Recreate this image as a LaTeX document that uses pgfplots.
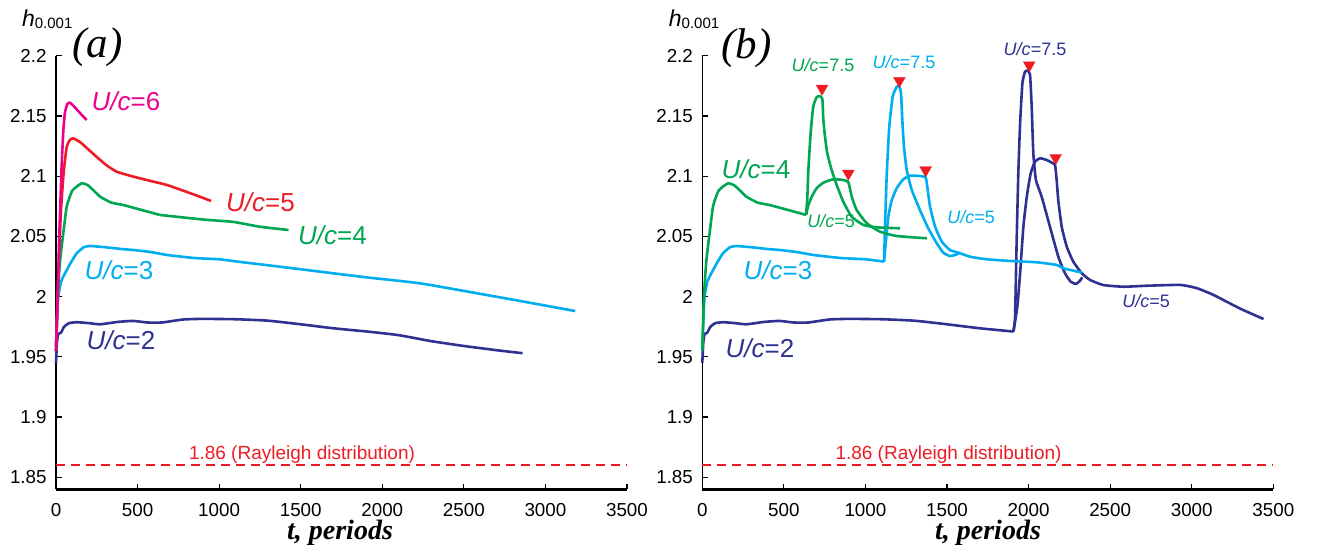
\documentclass[border=0pt]{standalone}
\usepackage{fontspec}
\setmainfont{Liberation Sans}
\newfontfamily\tnr{Liberation Serif}
\usepackage{pgfplots}
\pgfplotsset{compat=1.18}
\definecolor{cnavy}{HTML}{2E3192}
\definecolor{ccyan}{HTML}{00AEEF}
\definecolor{cgreen}{HTML}{00A651}
\definecolor{cred}{HTML}{ED1C24}
\definecolor{cmag}{HTML}{EC008C}

\pgfplotsset{
  panel/.style={
    scale only axis, width=285.5pt, height=216.8pt,
    xmin=0, xmax=3500, ymin=1.84, ymax=2.2,
    axis lines*=left,
    x axis line style={line width=1.3pt},
    y axis line style={line width=0.8pt},
    tick align=inside, major tick length=2.8pt,
    tick style={black, line width=0.6pt},
    xtick={0,500,1000,1500,2000,2500,3000,3500},
    xticklabels={0,500,1000,1500,2000,2500,3000,3500},
    ytick={1.85,1.9,1.95,2,2.05,2.1,2.15,2.2},
    yticklabels={1.85,1.9,1.95,2,2.05,2.1,2.15,2.2},
    x tick label style={inner sep=0pt, anchor=north, yshift=-7pt, font=\fontsize{9.4}{11}\selectfont},
    y tick label style={inner sep=0pt, anchor=east, xshift=-4.5pt, font=\fontsize{9.4}{11}\selectfont},
    /pgf/number format/assume math mode=true,
    scaled ticks=false,
    clip=false,
  },
  crv/.style={line width=1.3pt, line join=round, smooth, tension=0.3},
  ray/.style={cred, line width=0.9pt, dash pattern=on 4.5pt off 3pt},
  tri/.style={only marks, color=cred, mark=triangle*, mark size=3.46pt, mark options={rotate=180, fill=cred, draw=cred, line width=0.1pt, solid}},
}

\pgfplotstableread{
x y
0 1.945
6 1.962
14 1.969
30 1.970
50 1.975
80 1.978
130 1.9787
200 1.978
270 1.977
380 1.979
474 1.9798
560 1.9785
650 1.9785
780 1.981
900 1.9815
1100 1.9812
1300 1.980
1500 1.977
1700 1.9737
1907 1.971
}\UtwoBase
\pgfplotstableread{
x y
1907 1.971
2100 1.968
2300 1.963
2500 1.959
2700 1.9555
2860 1.953
}\UtwoTail
\pgfplotstableread{
x y
0 1.958
8 1.985
14 2.000
30 2.012
50 2.018
66 2.022
90 2.028
127 2.036
170 2.041
208 2.042
300 2.041
400 2.0395
474 2.0387
580 2.037
679 2.0346
850 2.032
1000 2.031
1114 2.029
}\UthreeBase
\pgfplotstableread{
x y
1114 2.029
1300 2.026
1619 2.0207
1900 2.016
2232 2.011
2641 2.0013
2900 1.995
3183 1.988
}\UthreeTail
\pgfplotstableread{
x y
0 1.955
10 2.000
25 2.030
45 2.053
66 2.075
100 2.088
157 2.094
200 2.092
270 2.083
340 2.078
413 2.076
550 2.071
636 2.0678
}\UfourBase
\pgfplotstableread{
x y
636 2.0678
900 2.064
1087 2.062
1250 2.058
1425 2.0553
}\UfourTail
\pgfplotstableread{
x y
0 1.955
15 2.02
30 2.07
45 2.10
55 2.113
66 2.1245
85 2.130
106 2.1314
150 2.128
200 2.122
249 2.116
310 2.109
372 2.1037
474 2.0996
580 2.096
679 2.0927
820 2.086
951 2.0794
}\Ufive
\pgfplotstableread{
x y
0 1.955
10 2.00
20 2.05
30 2.09
35 2.110
45 2.138
55 2.153
70 2.160
86 2.161
110 2.158
150 2.152
188 2.1466
}\Usix
% ---- panel (b) branches
\pgfplotstableread{
x y
636 2.0678
644 2.083
650 2.105
664 2.1356
680 2.1577
701 2.1655
721 2.1665
736 2.1638
742 2.1466
752 2.1328
766 2.119
793 2.105
824 2.0927
864 2.0788
916 2.0663
987 2.0595
1069 2.0575
1212 2.0567
}\GsevenFive
\pgfplotstableread{
x y
636 2.0678
650 2.076
671 2.083
701 2.090
742 2.0946
803 2.0974
864 2.0968
895 2.0951
916 2.083
946 2.0719
1008 2.0609
1089 2.0539
1192 2.0503
1376 2.0484
}\Gfive
\pgfplotstableread{
x y
1114 2.029
1120 2.058
1130 2.0996
1146 2.141
1167 2.166
1192 2.1743
1208 2.1743
1218 2.1688
1226 2.1466
1236 2.1245
1253 2.105
1284 2.0885
1334 2.0719
1385 2.0567
1437 2.0443
1477 2.0365
1518 2.0337
1555 2.0348
1580 2.0365
}\CsevenFive
\pgfplotstableread{
x y
1114 2.029
1126 2.047
1140 2.0663
1161 2.080
1192 2.090
1232 2.0974
1273 2.1004
1334 2.1001
1369 2.099
1379 2.0913
1396 2.0746
1427 2.058
1468 2.0456
1518 2.0387
1580 2.036
1641 2.0331
1743 2.031
1886 2.0296
2050 2.0285
2172 2.0263
2213 2.0235
2326 2.020
}\Cfive
\pgfplotstableread{
x y
1907 1.971
1917 1.9833
1927 2.047
1937 2.1024
1948 2.1439
1962 2.1771
1978 2.1867
1995 2.1875
2009 2.184
2019 2.1577
2029 2.119
2045 2.0968
2080 2.083
2131 2.058
2182 2.0331
2223 2.0194
2258 2.0124
2291 2.0105
2315 2.0132
2329 2.016
}\NsevenFive
\pgfplotstableread{
x y
1907 1.971
1931 1.9916
1948 2.0194
1968 2.058
1989 2.083
2013 2.1024
2039 2.112
2070 2.1148
2111 2.1134
2142 2.1112
2162 2.1093
2172 2.0968
2182 2.080
2203 2.058
2234 2.0414
2274 2.029
2326 2.0194
2377 2.0138
2458 2.0096
2581 2.0082
2725 2.009
2929 2.0097
3031 2.007
3133 2.0014
3297 1.990
3440 1.9814
}\Nfive
\pgfplotstableread{
x y
734 2.1728
895 2.1022
1208 2.1792
1369 2.1050
2004 2.1921
2166 2.1152
}\Peaks

\begin{document}
\begin{tikzpicture}
\useasboundingbox (0,0) rectangle (660.5pt,-278pt);
% ---------- panel (a)
\begin{axis}[panel, at={(28pt,-244.65pt)}, anchor=south west]
\addplot[ray] coordinates {(0,1.86) (3500,1.86)};
\addplot[crv, cnavy] table {\UtwoBase};
\addplot[crv, cnavy] table {\UtwoTail};
\addplot[crv, ccyan] table {\UthreeBase};
\addplot[crv, ccyan] table {\UthreeTail};
\addplot[crv, cgreen] table {\UfourBase};
\addplot[crv, cgreen] table {\UfourTail};
\addplot[crv, cred] table {\Ufive};
\addplot[crv, cmag] table {\Usix};
\end{axis}
% ---------- panel (b)
\begin{axis}[panel, at={(351.15pt,-244.65pt)}, anchor=south west]
\addplot[ray] coordinates {(0,1.86) (3500,1.86)};
\addplot[crv, cnavy] table {\UtwoBase};
\addplot[crv, cnavy] table {\NsevenFive};
\addplot[crv, cnavy] table {\Nfive};
\addplot[crv, ccyan] table {\UthreeBase};
\addplot[crv, ccyan] table {\CsevenFive};
\addplot[crv, ccyan] table {\Cfive};
\addplot[crv, cgreen] table {\UfourBase};
\addplot[crv, cgreen] table {\GsevenFive};
\addplot[crv, cgreen] table {\Gfive};
\addplot[tri] table {\Peaks};
\end{axis}
% ---------- annotations (positions in reference pixels)
\begin{scope}[x=0.5pt,y=-0.5pt]
\def\big{\fontsize{13}{15}\selectfont}
\def\sml{\fontsize{9}{11}\selectfont}
\def\hlab{\fontsize{11.5}{13}\selectfont\textit{h}\raisebox{-1pt}{\fontsize{7.5}{8}\selectfont 0.001}}
% panel a
\node[anchor=base west, inner sep=0] at (21.7,26.5) {\hlab};
\node[inner sep=0] at (97.5,47.5) {\tnr\itshape\fontsize{21.5}{24}\selectfont (a)};
\node[inner sep=0] at (340,533) {\tnr\bfseries\itshape\fontsize{14}{16}\selectfont t, periods};
\node[inner sep=0, text=cmag] at (126,101.5) {\big\textit{U/c}=6};
\node[inner sep=0, text=cred] at (260.5,202) {\big\textit{U/c}=5};
\node[inner sep=0, text=cgreen] at (332.5,235) {\big\textit{U/c}=4};
\node[inner sep=0, text=ccyan] at (119,270) {\big\textit{U/c}=3};
\node[inner sep=0, text=cnavy] at (121,340) {\big\textit{U/c}=2};
\node[inner sep=0, text=cred] at (302,455) {\fontsize{9.5}{11}\selectfont 1.86 (Rayleigh distribution)};
% panel b
\node[anchor=base west, inner sep=0] at (668.5,26.5) {\hlab};
\node[inner sep=0] at (746.5,48) {\tnr\itshape\fontsize{21.5}{24}\selectfont (b)};
\node[inner sep=0] at (988,533) {\tnr\bfseries\itshape\fontsize{14}{16}\selectfont t, periods};
\node[inner sep=0, text=cgreen] at (756,169) {\big\textit{U/c}=4};
\node[inner sep=0, text=ccyan] at (778,270) {\big\textit{U/c}=3};
\node[inner sep=0, text=cnavy] at (760,348) {\big\textit{U/c}=2};
\node[inner sep=0, text=cgreen] at (823,65) {\sml\textit{U/c}=7.5};
\node[inner sep=0, text=ccyan] at (904,62) {\sml\textit{U/c}=7.5};
\node[inner sep=0, text=cnavy] at (1035,49.5) {\sml\textit{U/c}=7.5};
\node[inner sep=0, text=cgreen] at (831,221) {\sml\textit{U/c}=5};
\node[inner sep=0, text=ccyan] at (971,217) {\sml\textit{U/c}=5};
\node[inner sep=0, text=cnavy] at (1146,301.5) {\sml\textit{U/c}=5};
\node[inner sep=0, text=cred] at (948.5,455) {\fontsize{9.5}{11}\selectfont 1.86 (Rayleigh distribution)};
\end{scope}
\end{tikzpicture}
\end{document}
